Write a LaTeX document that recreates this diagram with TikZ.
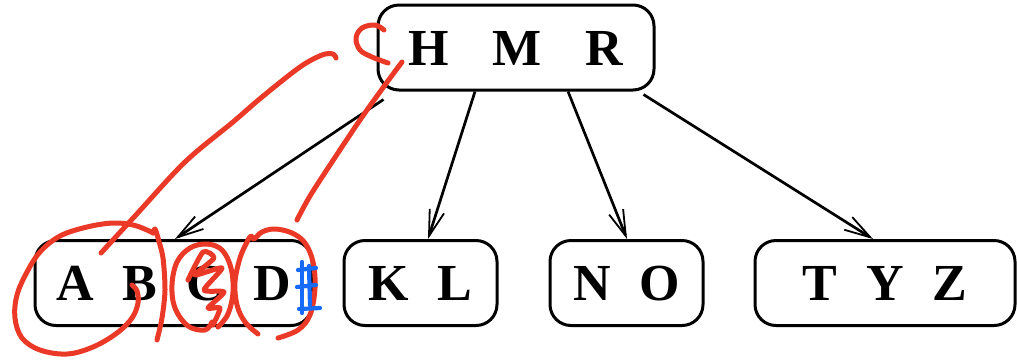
\documentclass[tikz,border=0pt]{standalone}
\usepackage{fontspec}
\setmainfont{Liberation Serif}
\usetikzlibrary{arrows.meta}
\definecolor{penred}{RGB}{234,57,38}
\definecolor{penblue}{RGB}{22,108,248}
\tikzset{
  keybox/.style={draw, line width=3pt, rounded corners=21pt, inner sep=0pt,
    minimum height=85pt, text height=35pt, text depth=0pt},
  leaffont/.style={font={\fontsize{52}{60}\selectfont\bfseries\spaceskip=29pt\relax}},
  rootfont/.style={font={\fontsize{52}{60}\selectfont\bfseries\spaceskip=44pt\relax}},
  link/.style={line width=2.7pt, -{Straight Barb[length=26pt,width=15pt,line width=1.8pt]}},
  pen/.style={draw=penred, line width=5pt, line cap=round, line join=round},
  bluepen/.style={draw=penblue, line width=4.2pt, line cap=round, line join=round}
}
\begin{document}
\begin{tikzpicture}[x=1pt, y=-1pt]
\useasboundingbox (0,0) rectangle (1017,360);

% keys of the B-tree
\node[keybox, rootfont, minimum width=276pt] (root) at (516,47.5) {H M R};
\node[keybox, leaffont, minimum width=277pt] (leafA) at (173.5,283) {A B C D};
\node[keybox, leaffont, minimum width=153pt] (leafK) at (420.5,283) {K L};
\node[keybox, leaffont, minimum width=153pt] (leafN) at (626.5,283) {N O};
\node[keybox, leaffont, minimum width=260pt] (leafT) at (885,283) {T Y Z};

% child pointers
\draw[link] ([shift={(7,8)}]root.south west) -- ([xshift=1.5pt]leafA.north);
\draw[link] ([xshift=-41pt]root.south) -- ([xshift=7.5pt]leafK.north);
\draw[link] ([xshift=52pt]root.south) -- ([xshift=0.5pt]leafN.north);
\draw[link] ([shift={(-12,3)}]root.south east) -- ([xshift=-12pt]leafT.north);

% red pen annotations
\draw[pen] plot[smooth, tension=0.55] coordinates {(101,253) (135,216) (185,162) (233,122) (262,97) (300,67) (322,55) (333,54) (336,58)};
\draw[pen] plot[smooth, tension=0.6] coordinates {(132,285) (137,291) (138,303) (132,318) (117,333) (93,347) (67,354) (40,350) (22,338) (15,318) (17,295) (27,272) (40,252) (60,236) (87,227) (113,223) (133,225) (147,230) (153,233)};
\draw[pen] plot[smooth, tension=0.5] coordinates {(153,233) (155,229) (158,238) (163,258) (165,290) (162,318) (157,340)};
\draw[pen] plot[smooth, tension=0.6] coordinates {(212,322) (205,330) (188,326) (175,308) (172,285) (177,262) (190,248) (207,244) (222,250) (231,268) (233,292) (228,314) (218,327)};
\draw[pen] plot[smooth, tension=0.4] coordinates {(188,280) (203,252) (214,258) (195,275) (222,268) (204,290) (224,292) (208,308) (220,308) (213,325)};
\draw[pen] plot[smooth, tension=0.6] coordinates {(258,334) (245,322) (237,305) (235,282) (240,258) (247,242) (251,236) (254,239) (262,232) (275,229) (292,233) (305,243) (313,262) (315,288) (310,315) (298,330) (278,338)};
\draw[pen] plot[smooth, tension=0.6] coordinates {(402,62) (385,85) (360,120) (332,162) (310,196) (297,220)};
\draw[pen] plot[smooth, tension=0.6] coordinates {(384,30) (375,25) (362,28) (356,38) (360,50) (372,57) (388,63)};

% blue pen letter
\draw[bluepen] (302,262) -- (302,313);
\draw[bluepen] (309,266) -- (310,305);
\draw[bluepen] (298,270) -- (316,268);
\draw[bluepen] (297,287) -- (316,285);
\draw[bluepen] (299,309) -- (320,308);
\end{tikzpicture}
\end{document}
